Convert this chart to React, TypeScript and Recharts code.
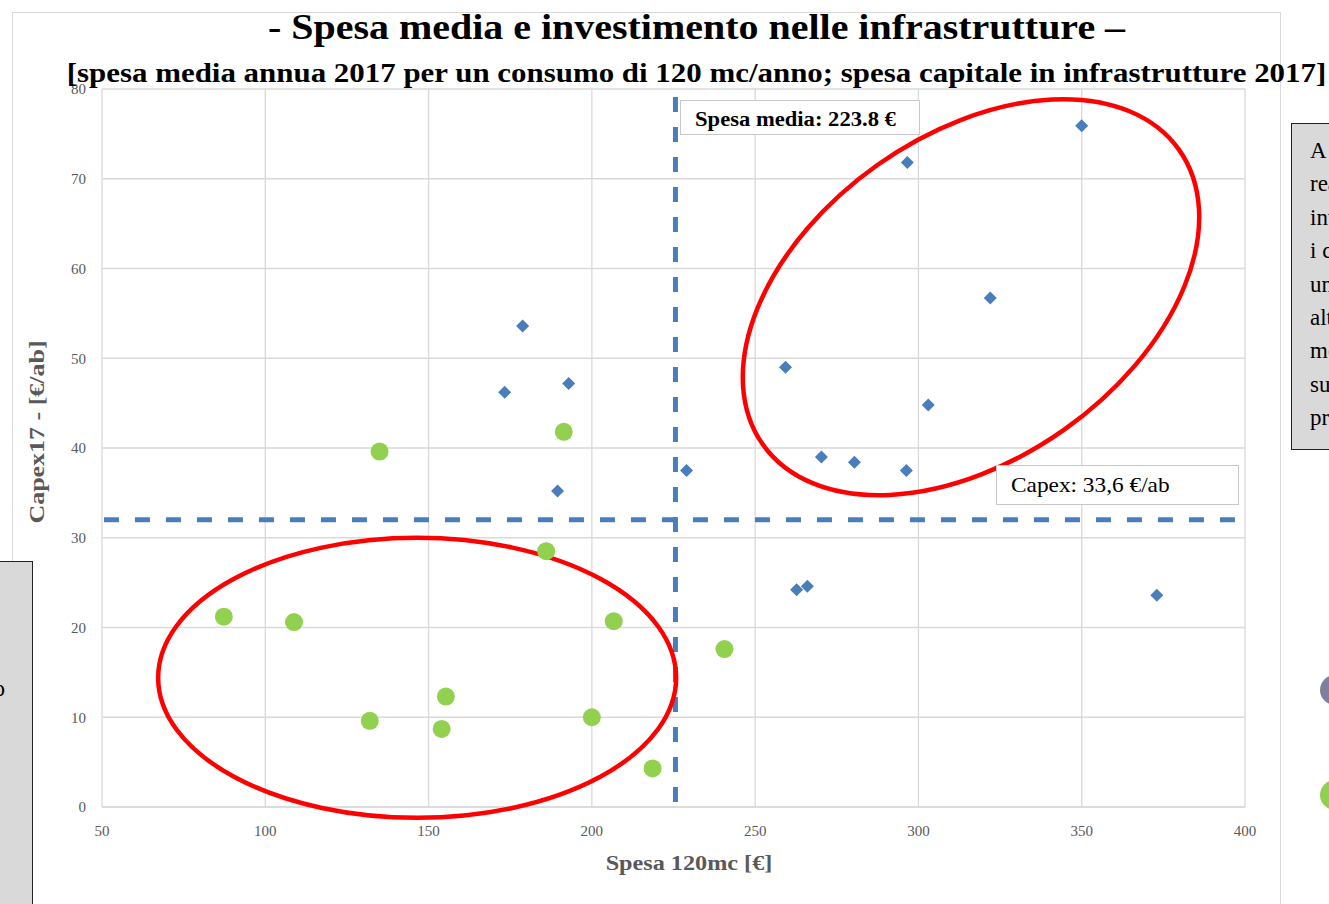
import {
  ScatterChart,
  Scatter,
  XAxis,
  YAxis,
  CartesianGrid,
  ReferenceLine,
  ReferenceDot,
} from "recharts";

// Valori
const altiX = [350, 296.6, 322, 178.8, 259.3, 192.9, 173.3, 303, 270.3, 280.4, 296.3, 229, 189.5, 266, 262.7, 373];
const altiY = [75.9, 71.8, 56.7, 53.6, 49.0, 47.2, 46.2, 44.8, 39.0, 38.4, 37.5, 37.5, 35.2, 24.6, 24.2, 23.6];
const bassiX = [135, 191.4, 186, 87.3, 108.8, 206.7, 240.6, 155.3, 132, 154, 200, 218.6];
const bassiY = [39.6, 41.8, 28.5, 21.2, 20.6, 20.7, 17.6, 12.3, 9.6, 8.7, 10.0, 4.3];
const xTicks = [50, 100, 150, 200, 250, 300, 350, 400];
const yTicks = [0, 10, 20, 30, 40, 50, 60, 70, 80];
const spesaLinea = 225.6;
const capexLinea = 32;

const blu = "#4a7ebb";
const verde = "#92d050";
const serif = "'Liberation Serif', 'DejaVu Serif', serif";

const altiData = altiX.map((x, i) => ({ x, y: altiY[i] }));
const bassiData = bassiX.map((x, i) => ({ x, y: bassiY[i] }));

const Diamond = (props: any) => {
  const { cx, cy } = props;
  const d = 6.5;
  return (
    <polygon
      points={`${cx},${cy - d} ${cx + d},${cy} ${cx},${cy + d} ${cx - d},${cy}`}
      fill={blu}
    />
  );
};

const Pallino = (props: any) => <circle cx={props.cx} cy={props.cy} r={9} fill={verde} />;

const ellisse = (rx: number, ry: number, rot: number) => (props: any) => (
  <ellipse
    cx={props.cx}
    cy={props.cy}
    rx={rx}
    ry={ry}
    fill="none"
    stroke="#ff0000"
    strokeWidth={4.5}
    transform={`rotate(${rot} ${props.cx} ${props.cy})`}
  />
);

const tick = { fill: "#595959", fontSize: 15, fontFamily: serif };

export default function App() {
  return (
    <div
      style={{
        position: "fixed",
        left: 0,
        top: 0,
        width: 1329,
        height: 904,
        overflow: "hidden",
        background: "#fff",
        fontFamily: serif,
      }}
    >
      <div
        style={{
          position: "absolute",
          left: 12,
          top: 12,
          width: 1267,
          height: 1000,
          border: "1px solid #d9d9d9",
        }}
      />
      <div style={{ position: "absolute", left: 0, top: 0 }}>
        <ScatterChart
          width={1329}
          height={904}
          margin={{ top: 89, right: 84, bottom: 57, left: 42 }}
        >
          <CartesianGrid stroke="#d9d9d9" strokeWidth={1.3} />
          <XAxis
            type="number"
            dataKey="x"
            domain={[50, 400]}
            ticks={xTicks}
            height={40}
            tickSize={0}
            tickMargin={18}
            tick={tick}
            axisLine={{ stroke: "#d9d9d9", strokeWidth: 1.3 }}
          />
          <YAxis
            type="number"
            dataKey="y"
            domain={[0, 80]}
            ticks={yTicks}
            width={60}
            tickSize={0}
            tickMargin={16}
            tick={tick}
            axisLine={false}
          />
          <ReferenceDot x={316.1} y={56.8} r={0} shape={ellisse(255, 162, -35.3)} />
          <ReferenceDot x={146.5} y={14.4} r={0} shape={ellisse(259, 140, 0)} />
          <ReferenceLine
            segment={[
              { x: 50.6, y: capexLinea },
              { x: 397.8, y: capexLinea },
            ]}
            stroke={blu}
            strokeWidth={5}
            strokeDasharray="15 16"
          />
          <ReferenceLine
            segment={[
              { x: spesaLinea, y: 79.1 },
              { x: spesaLinea, y: 0 },
            ]}
            stroke={blu}
            strokeWidth={5}
            strokeDasharray="15 15"
          />
          <Scatter data={altiData} shape={Diamond} isAnimationActive={false} />
          <Scatter data={bassiData} shape={Pallino} isAnimationActive={false} />
        </ScatterChart>
      </div>

      <div
        style={{
          position: "absolute",
          left: 0,
          width: 1393,
          top: 7,
          textAlign: "center",
          fontWeight: "bold",
          fontSize: 36,
          lineHeight: "40px",
          whiteSpace: "nowrap",
          transform: "scaleX(1.11)",
          transformOrigin: "696.5px 0",
        }}
      >
        - Spesa media e investimento nelle infrastrutture –
      </div>
      <div
        style={{
          position: "absolute",
          left: 0,
          width: 1393,
          top: 58,
          textAlign: "center",
          fontWeight: "bold",
          fontSize: 27,
          lineHeight: "30px",
          whiteSpace: "nowrap",
          transform: "scaleX(1.145)",
          transformOrigin: "696.5px 0",
        }}
      >
        [spesa media annua 2017 per un consumo di 120 mc/anno; spesa capitale in infrastrutture 2017]
      </div>

      <div
        style={{
          position: "absolute",
          left: 689 - 150,
          width: 300,
          top: 850,
          textAlign: "center",
          fontWeight: "bold",
          fontSize: 22,
          color: "#595959",
          transform: "scaleX(1.1)",
        }}
      >
        Spesa 120mc [€]
      </div>
      <div
        style={{
          position: "absolute",
          left: 37 - 150,
          top: 432 - 14,
          width: 300,
          height: 28,
          lineHeight: "28px",
          textAlign: "center",
          fontWeight: "bold",
          fontSize: 22,
          color: "#595959",
          transform: "rotate(-90deg) scaleX(1.18)",
        }}
      >
        Capex17 - [€/ab]
      </div>

      <div
        style={{
          position: "absolute",
          left: 680,
          top: 100,
          width: 240,
          height: 35,
          boxSizing: "border-box",
          border: "1.5px solid #c8c8c8",
          background: "#fff",
          overflow: "hidden",
        }}
      >
        <div
          style={{
            fontWeight: "bold",
            fontSize: 20,
            lineHeight: "36px",
            marginLeft: 14,
            whiteSpace: "nowrap",
            transform: "scaleX(1.13)",
            transformOrigin: "0 0",
          }}
        >
          Spesa media: 223.8 €
        </div>
      </div>
      <div
        style={{
          position: "absolute",
          left: 996,
          top: 465,
          width: 243,
          height: 40,
          boxSizing: "border-box",
          border: "1.5px solid #c8c8c8",
          background: "#fff",
        }}
      >
        <div
          style={{
            fontSize: 21,
            lineHeight: "38px",
            marginLeft: 14,
            whiteSpace: "nowrap",
            transform: "scaleX(1.11)",
            transformOrigin: "0 0",
          }}
        >
          Capex: 33,6 €/ab
        </div>
      </div>

      <div
        style={{
          position: "absolute",
          left: 1291,
          top: 123,
          width: 260,
          height: 327,
          boxSizing: "border-box",
          border: "1.5px solid #222",
          background: "#d9d9d9",
          fontSize: 23,
          lineHeight: "33.4px",
          paddingLeft: 18,
          paddingTop: 10,
          whiteSpace: "nowrap",
        }}
      >
        {["A fronte di", "realtà con", "investimenti", "i cui costi", "unitari", "alti, la", "media", "sulla", "prima"].map(
          (r) => (
            <div key={r}>{r}</div>
          )
        )}
      </div>

      <div
        style={{
          position: "absolute",
          left: -240,
          top: 561,
          width: 273,
          height: 400,
          boxSizing: "border-box",
          border: "1.5px solid #222",
          background: "#d9d9d9",
        }}
      >
        <div
          style={{
            position: "absolute",
            right: 27,
            top: 114,
            fontSize: 23,
            whiteSpace: "nowrap",
          }}
        >
          basso
        </div>
      </div>

      <div
        style={{
          position: "absolute",
          left: 1320,
          top: 675,
          width: 30,
          height: 30,
          borderRadius: "50%",
          background: "#7f7f9f",
        }}
      />
      <div
        style={{
          position: "absolute",
          left: 1320,
          top: 780,
          width: 30,
          height: 30,
          borderRadius: "50%",
          background: verde,
        }}
      />
    </div>
  );
}
